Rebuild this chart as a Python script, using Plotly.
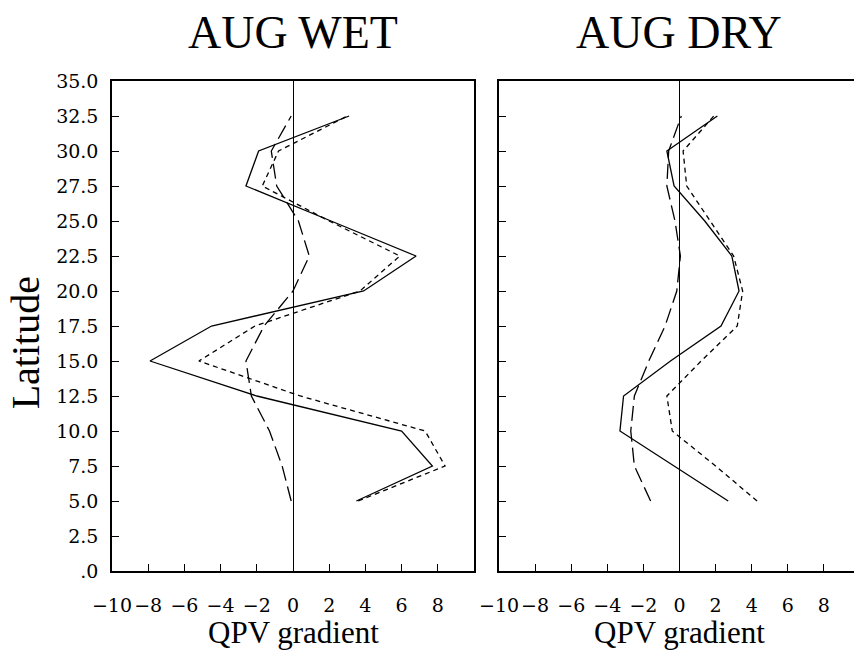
import plotly.graph_objects as go

lat = [5, 7.5, 10, 12.5, 15, 17.5, 20, 22.5, 25, 27.5, 30, 32.5]

wet_solid = [3.5, 7.7, 6.0, -2.0, -7.9, -4.5, 3.9, 6.8, 2.1, -2.6, -1.9, 3.1]
wet_short = [3.6, 8.4, 7.3, 0.4, -5.2, -2.1, 3.7, 5.9, 2.0, -1.7, -0.8, 3.0]
wet_long = [-0.1, -0.6, -1.3, -2.3, -2.6, -1.6, 0.0, 0.9, 0.3, -0.9, -1.2, -0.1]

dry_solid = [2.7, -0.3, -3.3, -3.1, -0.5, 2.3, 3.3, 2.9, 1.4, -0.3, -0.7, 2.1]
dry_short = [4.3, 2.0, -0.4, -0.7, 1.2, 3.2, 3.5, 3.0, 1.7, 0.4, 0.2, 1.9]
dry_long = [-1.6, -2.5, -2.7, -2.5, -1.7, -0.8, -0.15, 0.05, -0.25, -0.7, -0.6, 0.1]

titles = ["AUG WET", "AUG DRY"]
x_label = "QPV gradient"
y_label = "Latitude"
x_ticks = [-10, -8, -6, -4, -2, 0, 2, 4, 6, 8]
y_ticks = [0, 2.5, 5, 7.5, 10, 12.5, 15, 17.5, 20, 22.5, 25, 27.5, 30, 32.5, 35]
y_ticktext = [".0", "2.5", "5.0", "7.5", "10.0", "12.5", "15.0", "17.5", "20.0",
              "22.5", "25.0", "27.5", "30.0", "32.5", "35.0"]

FONT = "DejaVu Serif"
TFONT = "Liberation Serif"
LW = 1.3
styles = [("solid", None), ("short", "5px,4px"), ("long", "15px,6px")]

fig = go.Figure()
panels = [("x", "y", [wet_solid, wet_short, wet_long]),
          ("x2", "y2", [dry_solid, dry_short, dry_long])]
for xa, ya, series in panels:
    for (name, dash), vals in zip(styles, series):
        fig.add_trace(go.Scatter(
            x=vals, y=lat, mode="lines", xaxis=xa, yaxis=ya,
            line=dict(color="black", width=LW, dash=dash if dash else "solid"),
            showlegend=False, hoverinfo="skip"))

common_x = dict(
    tickmode="array", tickvals=x_ticks, ticks="inside", ticklen=7,
    tickcolor="black", tickwidth=1.2, showgrid=False, zeroline=True,
    zerolinecolor="black", zerolinewidth=LW, showline=True, linecolor="black",
    linewidth=1.5, tickangle=0, ticklabelstandoff=16,
    tickfont=dict(family=FONT, size=19, color="black"), fixedrange=True)
common_y = dict(
    range=[0, 35], tickmode="array", tickvals=y_ticks, ticktext=y_ticktext,
    ticks="inside", ticklen=7, tickcolor="black", tickwidth=1.2,
    showgrid=False, zeroline=False, showline=True, linecolor="black",
    linewidth=1.5, tickfont=dict(family=FONT, size=19, color="black"),
    fixedrange=True)

fig.update_layout(
    width=854, height=652,
    margin=dict(l=112, r=0, t=81, b=81),
    plot_bgcolor="white", paper_bgcolor="white",
    xaxis=dict(common_x, domain=[0, 0.4879], range=[-10, 10], mirror=True, anchor="y"),
    yaxis=dict(common_y, mirror=True, anchor="x", ticklabelstandoff=8),
    xaxis2=dict(common_x, domain=[0.5216, 1], range=[-10, 9.67], mirror=True, anchor="y2"),
    yaxis2=dict(common_y, mirror=False, anchor="x2", showticklabels=False),
)

# Panel titles and x-axis titles
for i, xr in enumerate(["x", "x2"]):
    fig.add_annotation(text=titles[i], xref=xr, x=0, yref="paper", y=1.098,
                       showarrow=False, yanchor="middle",
                       font=dict(family=TFONT, size=46, color="black"))
    fig.add_annotation(text=x_label, xref=xr, x=0, yref="paper", y=-0.125,
                       showarrow=False, yanchor="middle",
                       font=dict(family=TFONT, size=31, color="black"))

fig.add_annotation(text=y_label, xref="paper", x=-0.117, yref="paper", y=0.465,
                   showarrow=False, textangle=-90, xanchor="center", yanchor="middle",
                   font=dict(family=TFONT, size=40, color="black"))

fig.write_html("out.html")
